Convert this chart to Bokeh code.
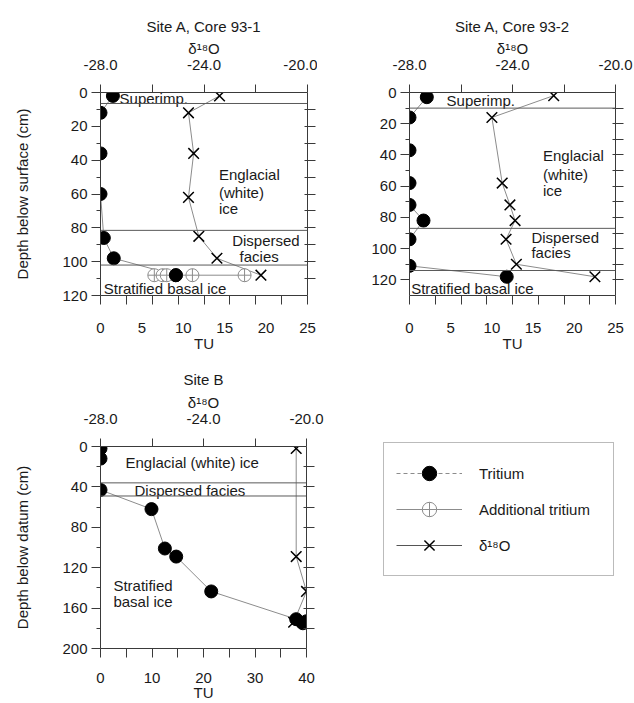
from bokeh.plotting import figure
from bokeh.models import (Range1d, LinearAxis, FixedTicker, Span, Legend, LegendItem,
                          PrintfTickFormatter, ColumnDataSource)
from bokeh.layouts import row, column
from bokeh.core.properties import value
from bokeh.embed import file_html
from bokeh.resources import INLINE

FONT = "Liberation Sans"
FS = "15px"
TXT = "#1a1a1a"
AX = "#3a3a3a"
CONN = "#8c8c8c"
ZONE = "#5a5a5a"

# ---------------- data ----------------
# Site A, Core 93-1
c1_tritium_depth = [2, 12, 36, 60, 86, 98, 108]
c1_tritium_tu = [1.5, 0.0, 0.0, 0.0, 0.4, 1.6, 9.1]
c1_add_depth = [108, 108, 108, 108, 108]
c1_add_tu = [6.5, 7.5, 8.0, 11.1, 17.4]
c1_d18o_depth = [2, 12, 36, 62, 85, 98, 108]
c1_d18o = [-23.4, -24.6, -24.4, -24.6, -24.2, -23.5, -21.8]
c1_zones = [6.5, 81.5, 102]
c1_text = ["Superimp.", "Englacial", "(white)", "ice", "Dispersed", "facies", "Stratified basal ice"]

# Site A, Core 93-2
c2_tritium_depth = [3, 16, 37, 58, 72, 82, 94, 111, 118]
c2_tritium_tu = [2.1, 0.0, 0.0, 0.0, 0.0, 1.7, 0.0, 0.0, 11.8]
c2_d18o_depth = [2, 16, 58, 72, 82, 94, 110, 118]
c2_d18o = [-22.4, -24.8, -24.4, -24.1, -23.9, -24.25, -23.85, -20.8]
c2_zones = [10, 87, 114]
c2_text = ["Superimp.", "Englacial", "(white)", "ice", "Dispersed", "facies", "Stratified basal ice"]

# Site B
sb_tritium_depth = [2, 12, 43, 62, 101, 109, 143.5, 171, 175, 173]
sb_tritium_tu = [0.0, 0.0, 0.0, 9.9, 12.5, 14.7, 21.5, 38.0, 39.3, 40.0]
sb_d18o_depth = [2, 109, 143.5, 174]
sb_d18o = [-20.4, -20.4, -20.0, -20.5]
sb_zones = [36, 49]
sb_text = ["Englacial (white) ice", "Dispersed facies", "Stratified", "basal ice"]

d18o_ticks = [-28.0, -24.0, -20.0]
d18o_minor = [-26.0, -22.0]
legend_labels = ["Tritium", "Additional tritium", "δ¹⁸O"]

# annotation placement (data units of each panel)
c1_text_x = [2.3, 14.3, 14.3, 14.3, 15.9, 16.8, 0.4]
c1_text_y = [3.5, 48.5, 59.0, 68.6, 87.5, 97.0, 116.0]
c2_text_x = [4.5, 16.2, 16.2, 16.2, 14.8, 14.8, 0.2]
c2_text_y = [5.1, 40.5, 52.5, 62.5, 93.0, 102.3, 125.8]
sb_text_x = [4.85, 6.6, 2.5, 2.5]
sb_text_y = [15.5, 43.3, 137.6, 153.7]


def style_axis(ax):
    ax.axis_line_color = AX
    ax.major_tick_line_color = AX
    ax.minor_tick_line_color = AX
    ax.major_label_text_font = FONT
    ax.major_label_text_font_size = FS
    ax.major_label_text_color = TXT
    ax.axis_label_text_font = FONT
    ax.axis_label_text_font_size = FS
    ax.axis_label_text_font_style = "normal"
    ax.axis_label_text_color = TXT


def panel(title, tu_max, depth_max, b_ticks, b_minor, b_major_len, l_ticks, l_minor,
          r_ticks, ylabel, fw, fh, bl, br, bt, bb, b_std, b_lab_std, t_std):
    p = figure(frame_width=fw, frame_height=fh,
               x_range=Range1d(0, tu_max), y_range=Range1d(depth_max, 0),
               output_backend="svg", toolbar_location=None,
               min_border_left=bl, min_border_right=br,
               min_border_top=bt, min_border_bottom=bb, title=title)
    p.grid.visible = False
    p.outline_line_color = None
    p.title.align = "center"
    p.title.text_font = FONT
    p.title.text_font_size = FS
    p.title.text_font_style = "normal"
    p.title.text_color = TXT
    p.title.standoff = t_std

    xa = p.xaxis[0]
    xa.ticker = FixedTicker(ticks=b_ticks, minor_ticks=b_minor)
    xa.axis_label = "TU"
    style_axis(xa)
    xa.major_tick_out = b_major_len
    xa.major_tick_in = 0
    xa.minor_tick_out = 9
    xa.minor_tick_in = 0
    xa.major_label_standoff = b_std
    xa.axis_label_standoff = b_lab_std

    ya = p.yaxis[0]
    ya.ticker = FixedTicker(ticks=l_ticks, minor_ticks=l_minor)
    ya.axis_label = ylabel
    style_axis(ya)
    ya.major_tick_out = 9
    ya.major_tick_in = 0
    ya.minor_tick_out = 4
    ya.minor_tick_in = 0
    ya.major_label_standoff = 4
    ya.axis_label_standoff = 28

    p.extra_x_ranges = {"d": Range1d(-28, -20)}
    top = LinearAxis(x_range_name="d",
                     ticker=FixedTicker(ticks=d18o_ticks, minor_ticks=d18o_minor),
                     formatter=PrintfTickFormatter(format="%.1f"),
                     axis_label="δ¹⁸O")
    style_axis(top)
    top.major_tick_out = 8
    top.major_tick_in = 0
    top.minor_tick_out = 8
    top.minor_tick_in = 0
    top.major_label_standoff = 15
    top.axis_label_standoff = 0
    p.add_layout(top, "above")

    # right spine: tick marks only (as minor ticks, so no labels are produced)
    right = LinearAxis(ticker=FixedTicker(ticks=[], minor_ticks=r_ticks))
    style_axis(right)
    right.major_label_standoff = 0
    right.minor_tick_out = 8
    right.minor_tick_in = 3
    p.add_layout(right, "right")
    return p


def draw(p, t_tu, t_depth, d_val, d_depth, zones, tx, ty, tt):
    for z in zones:
        p.add_layout(Span(location=z, dimension="width", line_color=ZONE, line_width=1))
    p.line(t_tu, t_depth, line_color=CONN, line_width=1)
    p.line(d_val, d_depth, x_range_name="d", line_color=CONN, line_width=1)
    p.text(x=tx, y=ty, text=tt, text_font=value(FONT), text_font_size=FS,
           text_baseline="middle", text_align="left", text_color=TXT)
    p.scatter(t_tu, t_depth, marker="circle", size=13, fill_color="black", line_color="black")
    p.scatter(d_val, d_depth, x_range_name="d", marker="x", size=15,
              line_color="black", line_width=1.5)


p1 = panel("Site A, Core 93-1", 25, 120,
           [0, 5, 10, 15, 20, 25], [0, 3.125, 6.25, 9.375, 12.5, 15.625, 18.75, 21.875, 25], 0,
           [0, 20, 40, 60, 80, 100, 120], [10, 30, 50, 70, 90, 110],
           [10, 20, 30, 40, 50, 60, 70, 80, 90, 100, 110],
           "Depth below surface (cm)", 207, 203, 100, 10, 92, 60, 18, -1, 3)
draw(p1, c1_tritium_tu, c1_tritium_depth, c1_d18o, c1_d18o_depth, c1_zones,
     c1_text_x, c1_text_y, c1_text)
p1.line(c1_add_tu, c1_add_depth, line_color=CONN, line_width=1)
p1.scatter(c1_add_tu, c1_add_depth, marker="circle_cross", size=13,
           line_color="#8c8c8c", fill_color="white", line_width=1)
p1.scatter(c1_tritium_tu[-1:], c1_tritium_depth[-1:], marker="circle", size=13,
           fill_color="black", line_color="black")

p2 = panel("Site A, Core 93-2", 25, 130,
           [0, 5, 10, 15, 20, 25], [0, 3.125, 6.25, 9.375, 12.5, 15.625, 18.75, 21.875, 25], 0,
           [0, 20, 40, 60, 80, 100, 120], [10, 30, 50, 70, 90, 110],
           [10, 20, 30, 40, 50, 60, 70, 80, 90, 100, 110, 120],
           None, 206, 203, 92, 18, 92, 60, 18, -1, 3)
draw(p2, c2_tritium_tu, c2_tritium_depth, c2_d18o, c2_d18o_depth, c2_zones,
     c2_text_x, c2_text_y, c2_text)

p3 = panel("Site B", 40, 200,
           [0, 10, 20, 30, 40], [5, 15, 25, 35], 9,
           [0, 40, 80, 120, 160, 200], [20, 60, 100, 140, 180],
           [20, 40, 60, 80, 100, 120, 140, 160, 180],
           "Depth below datum (cm)", 206, 202, 100, 327, 91, 54, 15, -2, 6)
draw(p3, sb_tritium_tu, sb_tritium_depth, sb_d18o, sb_d18o_depth, sb_zones,
     sb_text_x, sb_text_y, sb_text)

# legend key renderers: one undrawn (NaN) point each, used only for the key
nan = float("nan")
key = ColumnDataSource(data=dict(x=[nan], y=[nan]))
r1l = p3.line("x", "y", source=key, line_color=CONN, line_dash="4 3", line_width=1)
r1m = p3.scatter("x", "y", source=key, marker="circle", size=17,
                 fill_color="black", line_color="black")
r2l = p3.line("x", "y", source=key, line_color=CONN, line_width=1)
r2m = p3.scatter("x", "y", source=key, marker="circle_cross", size=15,
                 line_color="#8c8c8c", fill_color="white", line_width=1)
r3l = p3.line("x", "y", source=key, line_color="#555555", line_width=1)
r3m = p3.scatter("x", "y", source=key, marker="x", size=18,
                 line_color="black", line_width=1.5)
legend = Legend(items=[LegendItem(label=legend_labels[0], renderers=[r1l, r1m]),
                       LegendItem(label=legend_labels[1], renderers=[r2l, r2m]),
                       LegendItem(label=legend_labels[2], renderers=[r3l, r3m])],
                location=(-148, 72), padding=12, spacing=0, label_standoff=17,
                glyph_width=66, glyph_height=36, label_height=20, label_width=122,
                margin=0, border_line_color="#777777", border_line_width=1,
                background_fill_color="white", background_fill_alpha=1,
                label_text_font=FONT, label_text_font_size=FS, label_text_color=TXT)
p3.add_layout(legend, "right")

layout = column(row(p1, p2), p3)
open("out.html", "w").write(file_html(layout, INLINE))
